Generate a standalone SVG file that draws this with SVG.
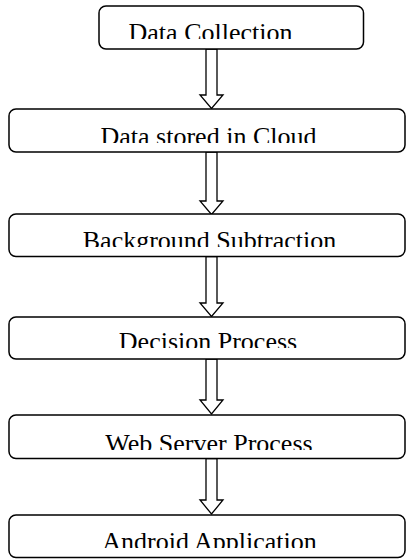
<svg xmlns="http://www.w3.org/2000/svg" width="407" height="559" viewBox="0 0 407 559">
  <style>
    .box { fill: #ffffff; stroke: #000000; stroke-width: 1.5; }
    .arrow { fill: #ffffff; stroke: #000000; stroke-width: 1.3; stroke-linejoin: miter; }
    .label { font-family: "Liberation Serif", "Times New Roman", serif; font-size: 26px; fill: #000000; text-anchor: middle; }
  </style>
  <defs>
    <!-- text areas: labels are cut off just above their baseline -->
    <clipPath id="clip1"><rect x="0" y="0" width="407" height="39"/></clipPath>
    <clipPath id="clip2"><rect x="0" y="100" width="407" height="43"/></clipPath>
    <clipPath id="clip3"><rect x="0" y="205" width="407" height="42"/></clipPath>
    <clipPath id="clip4"><rect x="0" y="310" width="407" height="38"/></clipPath>
    <clipPath id="clip5"><rect x="0" y="405" width="407" height="45"/></clipPath>
    <clipPath id="clip6"><rect x="0" y="505" width="407" height="43"/></clipPath>
  </defs>
  <rect width="407" height="559" fill="#ffffff"/>

  <g id="connectors">
    <path class="arrow" d="M206,49 H217 V95 H223 L211.5,108.5 L200,95 H206 Z"/>
    <path class="arrow" d="M206,152 H217 V201 H223 L211.5,214.5 L200,201 H206 Z"/>
    <path class="arrow" d="M206,256.5 H217 V303 H223 L211.5,316.5 L200,303 H206 Z"/>
    <path class="arrow" d="M206,359 H217 V400 H223 L211.5,414 L200,400 H206 Z"/>
    <path class="arrow" d="M206,458.5 H217 V500 H223 L211.5,514 L200,500 H206 Z"/>
  </g>

  <g id="node-data-collection">
    <rect class="box" x="99" y="6" width="264.5" height="43" rx="7"/>
    <text class="label" x="210.5" y="41" clip-path="url(#clip1)">Data Collection</text>
  </g>
  <g id="node-data-stored">
    <rect class="box" x="9" y="109" width="396" height="43" rx="7"/>
    <text class="label" x="208.5" y="145" clip-path="url(#clip2)">Data stored in Cloud</text>
  </g>
  <g id="node-background-subtraction">
    <rect class="box" x="9" y="214" width="396" height="42.5" rx="7"/>
    <text class="label" x="209.5" y="249" clip-path="url(#clip3)">Background Subtraction</text>
  </g>
  <g id="node-decision">
    <rect class="box" x="9" y="317" width="396" height="42" rx="7"/>
    <text class="label" x="208" y="350" clip-path="url(#clip4)">Decision Process</text>
  </g>
  <g id="node-web-server">
    <rect class="box" x="9" y="415" width="396" height="43.5" rx="7"/>
    <text class="label" x="209" y="452" clip-path="url(#clip5)">Web Server Process</text>
  </g>
  <g id="node-android">
    <rect class="box" x="9" y="515" width="396" height="42.5" rx="7"/>
    <text class="label" x="209.5" y="550" clip-path="url(#clip6)">Android Application</text>
  </g>
</svg>
